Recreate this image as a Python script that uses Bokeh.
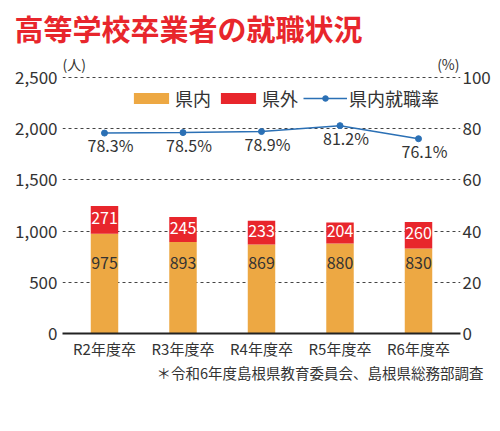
from bokeh.plotting import figure
from bokeh.models import (FactorRange, Range1d, LinearAxis, FixedTicker, NumeralTickFormatter,
                          ColumnDataSource, Legend, LegendItem, Label, LabelSet, Title)
from bokeh.core.properties import value
from bokeh.embed import file_html
from bokeh.resources import INLINE

# ---- data ----
categories = ["R2年度卒", "R3年度卒", "R4年度卒", "R5年度卒", "R6年度卒"]
in_pref = [975, 893, 869, 880, 830]
out_pref = [271, 245, 233, 204, 260]
rate = [78.3, 78.5, 78.9, 81.2, 76.1]
left_ticks = [0, 500, 1000, 1500, 2000, 2500]
right_ticks = [0, 20, 40, 60, 80, 100]
title_text = "高等学校卒業者の就職状況"
note_text = "＊令和6年度島根県教育委員会、島根県総務部調査"
legend_labels = ["県内", "県外", "県内就職率"]
left_unit = "(人)"
right_unit = "(%)"

FONT = "Noto Sans CJK JP"
ORANGE = "#EDA843"
RED = "#E8262C"
BLUE = "#2B70B5"
TXT = "#333333"
INSIDE_Y = 685

# room above the top gridline (in axis units) for the unit captions
LEFT_TOP = 2764
RIGHT_TOP = right_ticks[-1] * LEFT_TOP / left_ticks[-1]

src = ColumnDataSource(dict(
    cat=categories,
    inp=in_pref,
    outp=out_pref,
    rate=rate,
    rate_lbl=[f"{r:.1f}%" for r in rate],
    in_lbl=[str(v) for v in in_pref],
    out_lbl=[str(v) for v in out_pref],
    out_mid=[a + b / 2 for a, b in zip(in_pref, out_pref)],
    in_y=[INSIDE_Y] * len(in_pref),
))

p = figure(width=500, height=431,
           x_range=FactorRange(factors=categories, range_padding=0.014),
           y_range=Range1d(0, LEFT_TOP),
           output_backend="svg", toolbar_location=None,
           min_border_left=62, min_border_right=40, min_border_top=50, min_border_bottom=98)
p.extra_y_ranges = {"pct": Range1d(0, RIGHT_TOP)}
p.outline_line_color = None
p.background_fill_color = "white"

# title
p.title.text = title_text
p.title.text_font = FONT
p.title.text_font_size = "29px"
p.title.text_font_style = "bold"
p.title.text_color = RED
p.title.align = "left"
p.title.offset = -48
p.title.standoff = 4

# axes
p.yaxis.ticker = FixedTicker(ticks=left_ticks)
p.yaxis.formatter = NumeralTickFormatter(format="0,0")
p.yaxis.axis_line_color = None
p.yaxis.major_tick_line_color = None
p.yaxis.minor_tick_line_color = None
p.yaxis.major_tick_out = 0
p.yaxis.major_tick_in = 0
p.yaxis.major_label_standoff = 5
p.yaxis.major_label_text_font = FONT
p.yaxis.major_label_text_font_size = "17px"
p.yaxis.major_label_text_color = TXT

p.xaxis.axis_line_color = "#222222"
p.xaxis.axis_line_width = 2
p.xaxis.major_tick_line_color = None
p.xaxis.major_tick_out = 0
p.xaxis.major_tick_in = 0
p.xaxis.major_label_standoff = 4
p.xaxis.major_label_text_font = FONT
p.xaxis.major_label_text_font_size = "15px"
p.xaxis.major_label_text_color = TXT

raxis = LinearAxis(y_range_name="pct", ticker=FixedTicker(ticks=right_ticks))
raxis.axis_line_color = None
raxis.major_tick_line_color = None
raxis.minor_tick_line_color = None
raxis.major_tick_out = 0
raxis.major_tick_in = 0
raxis.major_label_standoff = 2
raxis.major_label_text_font = FONT
raxis.major_label_text_font_size = "17px"
raxis.major_label_text_color = TXT
p.add_layout(raxis, "right")

p.xgrid.grid_line_color = None
p.ygrid.ticker = FixedTicker(ticks=left_ticks)
p.ygrid.grid_line_color = "#444444"
p.ygrid.grid_line_dash = "3 3"
p.ygrid.grid_line_width = 1.2

# bars
bars = p.vbar_stack(["inp", "outp"], x="cat", width=0.35, color=[ORANGE, RED],
                    line_color=None, source=src)

# line
ln = p.line(x="cat", y="rate", y_range_name="pct", source=src, line_color=BLUE, line_width=1.5)
sc = p.scatter(x="cat", y="rate", y_range_name="pct", source=src, size=6,
               fill_color=BLUE, line_color=BLUE)

# labels
p.add_layout(LabelSet(x="cat", y="rate", text="rate_lbl", source=src, y_range_name="pct",
                      x_offset=6, y_offset=-12, text_align="center", text_baseline="middle",
                      text_font=value(FONT), text_font_size="16px", text_color=TXT))
p.add_layout(LabelSet(x="cat", y="out_mid", text="out_lbl", source=src,
                      y_offset=2, text_align="center", text_baseline="middle",
                      text_font=value(FONT), text_font_size="16px", text_color="white"))
p.add_layout(LabelSet(x="cat", y="in_y", text="in_lbl", source=src,
                      text_align="center", text_baseline="middle",
                      text_font=value(FONT), text_font_size="16px", text_color=TXT))

# legend
legend = Legend(items=[LegendItem(label=legend_labels[0], renderers=[bars[0]]),
                       LegendItem(label=legend_labels[1], renderers=[bars[1]]),
                       LegendItem(label=legend_labels[2], renderers=[ln, sc])],
                orientation="horizontal", location=(67, 222),
                border_line_color=None, background_fill_alpha=0,
                padding=0, margin=0, spacing=5, label_standoff=2,
                glyph_width=44, glyph_height=14,
                label_text_font=FONT, label_text_font_size="18px", label_text_color=TXT)
p.add_layout(legend)

# unit captions (inside the frame, above the top gridline)
p.add_layout(Label(x=0, y=270, x_units="screen", y_units="screen", text=left_unit,
                   text_font=FONT, text_font_size="14px", text_color=TXT,
                   text_baseline="middle", text_align="left"))
p.add_layout(Label(x=397, y=270, x_units="screen", y_units="screen", text=right_unit,
                   text_font=FONT, text_font_size="14px", text_color=TXT,
                   text_baseline="middle", text_align="right"))

# footnote
p.add_layout(Title(text=note_text, align="right", offset=-23, standoff=0,
                   vertical_align="top",
                   text_font=FONT, text_font_size="14.5px", text_font_style="normal",
                   text_color=TXT), "below")

open("out.html", "w").write(file_html(p, INLINE))
